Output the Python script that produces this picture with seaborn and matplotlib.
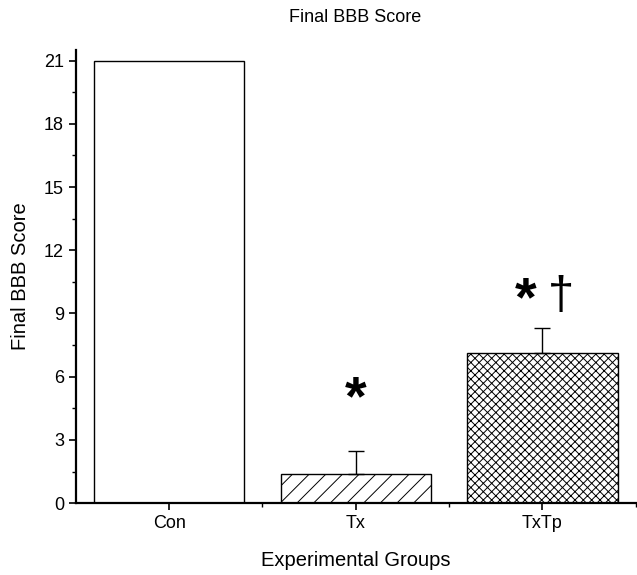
import matplotlib
matplotlib.use("Agg")
import matplotlib.pyplot as plt
import seaborn as sns
import pandas as pd
from matplotlib.ticker import MultipleLocator, FixedLocator

groups = ["Con", "Tx", "TxTp"]
scores = [21.0, 1.4, 7.1]
errors = [0.0, 1.07, 1.2]
hatches = ["", "//", "xxxx"]

sns.set_theme(style="ticks")
plt.rcParams["font.family"] = ["Liberation Sans", "DejaVu Sans"]
plt.rcParams["hatch.linewidth"] = 0.7
plt.rcParams["text.color"] = "black"
plt.rcParams["axes.labelcolor"] = "black"

df = pd.DataFrame({"group": groups, "score": scores})

fig = plt.figure(figsize=(6.37, 5.75), dpi=100)
ax = fig.add_axes([0.119, 0.125, 0.879, 0.788])

sns.barplot(data=df, x="group", y="score", color="white", edgecolor="black",
            linewidth=1.0, width=0.806, errorbar=None, ax=ax)
for patch, h in zip(ax.patches, hatches):
    patch.set_hatch(h)
    patch.set_facecolor("white")
    patch.set_edgecolor("black")

xs = list(range(len(groups)))
for x, s, e in zip(xs, scores, errors):
    if e > 0:
        ax.errorbar([x], [s], yerr=[[0], [e]], fmt="none", ecolor="black",
                    elinewidth=1.0, capsize=6, capthick=1.0)

# significance marks
ax.text(1, 4.9, "*", ha="center", va="center", fontsize=40, fontweight="bold", color="black")
ax.text(1.91, 9.6, "*", ha="center", va="center", fontsize=40, fontweight="bold", color="black")
ax.text(2.1, 9.8, "\u2020", ha="center", va="center", fontsize=34, color="black")

ax.set_xlim(-0.5, 2.5)
ax.set_ylim(0, 21.5)
ax.yaxis.set_major_locator(FixedLocator([0, 3, 6, 9, 12, 15, 18, 21]))
ax.yaxis.set_minor_locator(MultipleLocator(1.5))
ax.xaxis.set_minor_locator(FixedLocator([0.5, 1.5, 2.5]))
ax.tick_params(axis="both", which="major", direction="out", length=5, width=1.2,
               labelsize=13, colors="black")
ax.tick_params(axis="both", which="minor", direction="out", length=3, width=1.0,
               colors="black")
sns.despine(ax=ax)
for sp in ["left", "bottom"]:
    ax.spines[sp].set_linewidth(1.6)
    ax.spines[sp].set_color("black")

ax.set_xlabel("Experimental Groups", fontsize=14.5, labelpad=14)
ax.set_ylabel("Final BBB Score", fontsize=14.5, labelpad=10)
fig.suptitle("Final BBB Score", x=0.558, y=0.985, fontsize=13)

fig.savefig("out.png", dpi=100)
